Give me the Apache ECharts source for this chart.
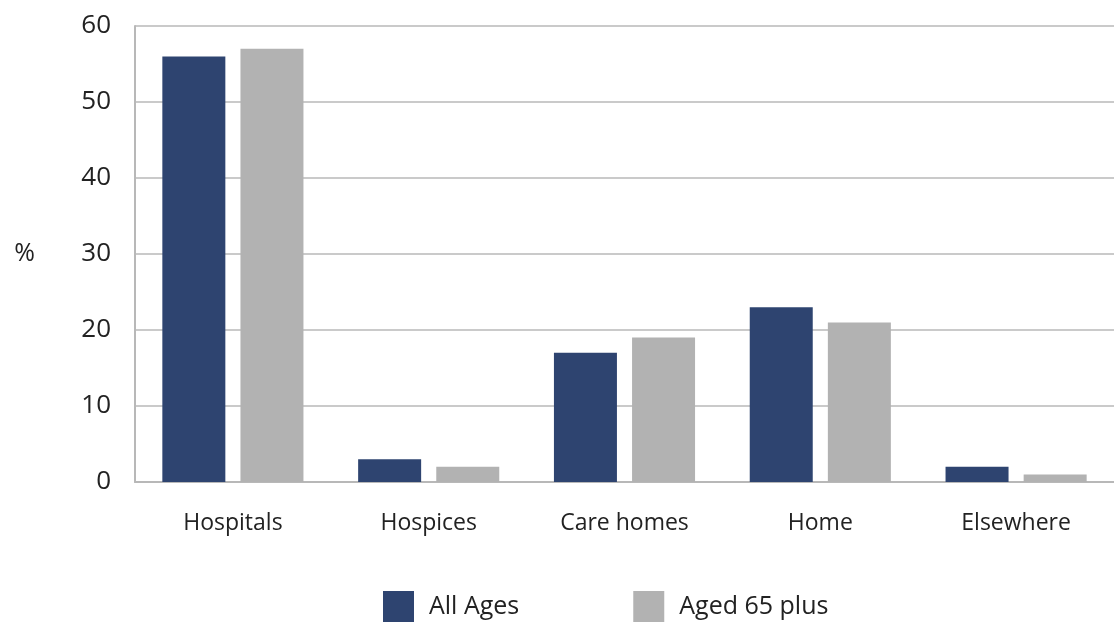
<!DOCTYPE html>
<html>
<head>
<meta charset="utf-8">
<script src="https://cdn.jsdelivr.net/npm/echarts@6/dist/echarts.min.js"></script>
<style>
  html, body { margin: 0; padding: 0; background: #fff; }
  #chart { width: 1114px; height: 623px; }
</style>
</head>
<body>
<div id="chart"></div>
<script>
const categories = ['Hospitals', 'Hospices', 'Care homes', 'Home', 'Elsewhere']
const allAges = [56, 3, 17, 23, 2]
const aged65 = [57, 2, 19, 21, 1]
const seriesNames = ['All Ages', 'Aged 65 plus']

const font = '"Open Sans", "Noto Sans", sans-serif'
const chart = echarts.init(document.getElementById('chart'))

chart.setOption({
    animation: false,
    textStyle: { fontFamily: font, color: '#222' },
    grid: { left: 135, top: 26, width: 988, height: 456 },
    legend: {
        data: seriesNames,
        left: 383,
        top: 591,
        padding: 0,
        itemWidth: 31,
        itemHeight: 31,
        itemGap: 114,
        icon: 'rect',
        textStyle: { fontSize: 25, color: '#222', fontFamily: font, padding: [4, 0, 0, 10] }
    },
    xAxis: {
        type: 'category',
        data: categories,
        axisTick: { show: false },
        axisLine: { lineStyle: { color: '#b8b8b8', width: 2 } },
        axisLabel: { fontSize: 23, color: '#222', margin: 30, fontFamily: font }
    },
    yAxis: {
        type: 'value',
        min: 0,
        max: 60,
        interval: 10,
        name: '%',
        nameLocation: 'middle',
        nameRotate: 0,
        nameGap: 100,
        nameTextStyle: { fontSize: 25, color: '#222', fontFamily: font },
        axisLine: { show: true, lineStyle: { color: '#b8b8b8', width: 2 } },
        axisTick: { show: false },
        splitLine: { lineStyle: { color: '#b8b8b8', width: 1.5 } },
        axisLabel: { fontSize: 26, color: '#222', margin: 24, fontFamily: font }
    },
    series: [
        {
            name: seriesNames[0],
            type: 'bar',
            data: allAges,
            barWidth: 63,
            barGap: '24%',
            itemStyle: { color: '#2e4470' }
        },
        {
            name: seriesNames[1],
            type: 'bar',
            data: aged65,
            barWidth: 63,
            itemStyle: { color: '#b2b2b2' }
        }
    ]
})
</script>
</body>
</html>
